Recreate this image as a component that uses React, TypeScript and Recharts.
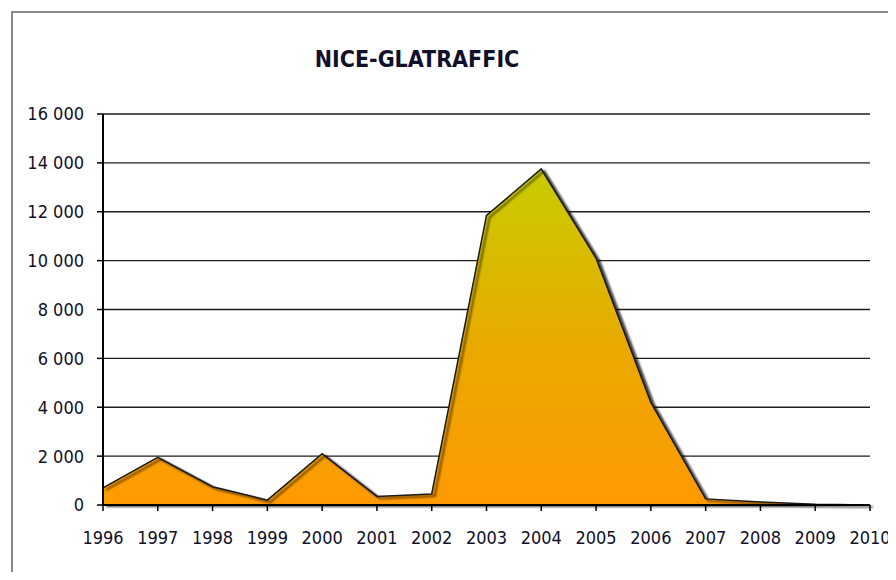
import React from 'react';
import { AreaChart, Area, XAxis, YAxis, CartesianGrid } from 'recharts';

const years = ['1996','1997','1998','1999','2000','2001','2002','2003','2004','2005','2006','2007','2008','2009','2010'];
const traffic = [700, 1950, 750, 200, 2100, 350, 450, 11850, 13750, 10100, 4200, 250, 120, 30, 0];
const yTicks = [0, 2000, 4000, 6000, 8000, 10000, 12000, 14000, 16000];
const title = 'NICE-GLATRAFFIC';

const data = years.map((y, i) => ({ year: y, value: traffic[i] }));

const fmt = (v: number) => {
  const s = String(v);
  return s.length > 3 ? s.slice(0, s.length - 3) + ' ' + s.slice(-3) : s;
};

const FONT = '"DejaVu Sans Condensed", "DejaVu Sans", sans-serif';
const TFONT = '"Liberation Sans Narrow", "DejaVu Sans Condensed", sans-serif';
const TXT = '#10102a';

export default function App() {
  return (
    <div style={{ position: 'relative', width: 880, height: 564 }}>
      <div
        style={{
          position: 'absolute',
          left: 3,
          top: 3,
          width: 877,
          height: 561,
          borderLeft: '2px solid #8a8a8a',
          borderTop: '2px solid #8a8a8a',
          boxSizing: 'border-box',
        }}
      />
      <div
        style={{
          position: 'absolute',
          left: 259,
          top: 38,
          width: 300,
          textAlign: 'center',
          fontFamily: TFONT,
          fontWeight: 'bold',
          fontSize: 23,
          color: TXT,
          whiteSpace: 'nowrap',
        }}
      >
        {title}
      </div>
      <div style={{ position: 'absolute', left: 0, top: 0 }}>
        <AreaChart
          width={888}
          height={564}
          data={data}
          margin={{ top: 106, right: 26, bottom: 37, left: 0 }}
        >
          <defs>
            <linearGradient id="fillGrad" x1="0" y1="0" x2="0" y2="1">
              <stop offset="0%" stopColor="#c8cc00" />
              <stop offset="55%" stopColor="#eaa800" />
              <stop offset="100%" stopColor="#ff9a00" />
            </linearGradient>
            <filter id="shadow" x="-5%" y="-5%" width="115%" height="115%">
              <feDropShadow dx="3" dy="2" stdDeviation="0.8" floodColor="#000" floodOpacity="0.75" />
            </filter>
          </defs>
          <CartesianGrid vertical={false} stroke="#1e1e1e" strokeWidth={1.3} />
          <XAxis
            dataKey="year"
            axisLine={{ stroke: '#000', strokeWidth: 2 }}
            tickLine={{ stroke: '#000', strokeWidth: 1.5 }}
            tickSize={6}
            height={30}
            interval={0}
            tick={{ fill: TXT, fontSize: 18, fontFamily: FONT }}
            tickMargin={20}
          />
          <YAxis
            domain={[0, 16000]}
            ticks={yTicks}
            width={95}
            tickFormatter={fmt}
            axisLine={{ stroke: '#000', strokeWidth: 2 }}
            tickLine={{ stroke: '#000', strokeWidth: 1.5 }}
            tickSize={6}
            tickMargin={13}
            interval={0}
            tick={{ fill: TXT, fontSize: 18, fontFamily: FONT }}
          />
          <Area
            type="linear"
            dataKey="value"
            stroke="#1a1a1a"
            strokeWidth={1.5}
            fill="url(#fillGrad)"
            fillOpacity={1}
            isAnimationActive={false}
            dot={false}
            activeDot={false}
            style={{ filter: 'url(#shadow)' }}
          />
        </AreaChart>
      </div>
    </div>
  );
}
